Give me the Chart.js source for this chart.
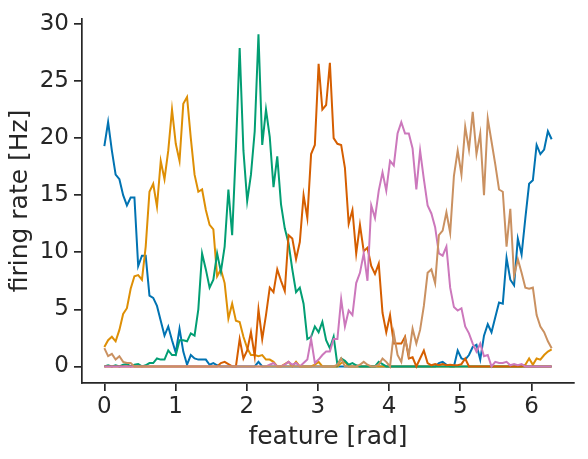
<!DOCTYPE html>
<html>
<head>
<meta charset="utf-8">
<script src="https://cdn.jsdelivr.net/npm/chart.js@4.4.1/dist/chart.umd.min.js"></script>
<style>
  html, body { margin: 0; padding: 0; background: #ffffff; }
</style>
</head>
<body>
<canvas id="tuning" width="588" height="459"></canvas>
<script>
// feature grid: 120 samples over [0, 2pi]
const nSamples = 120;
const features = Array.from({ length: nSamples }, (_, i) => i * 2 * Math.PI / (nSamples - 1));

const xTicks = [0, 1, 2, 3, 4, 5, 6];
const yTicks = [0, 5, 10, 15, 20, 25, 30];

// firing rates [Hz], one row = 10 samples
const rateBlue = [
  19.3, 21.4, 18.9, 16.8, 16.4, 15.0, 14.1, 14.8, 14.8, 8.8,
  9.7, 9.7, 6.2, 6.0, 5.3, 4.0, 2.7, 3.5, 2.3, 1.2,
  3.3, 1.3, 0.15, 1.0, 0.7, 0.6, 0.6, 0.6, 0.15, 0.3,
  0.1, 0, 0, 0, 0, 0, 0, 0, 0, 0,
  0, 0.4, 0, 0, 0, 0, 0, 0, 0, 0,
  0, 0, 0, 0, 0, 0, 0, 0, 0, 0,
  0, 0, 0, 0, 0, 0, 0, 0, 0, 0,
  0, 0, 0, 0, 0, 0, 0, 0, 0, 0,
  0, 0, 0, 0, 0, 0, 0, 0, 0, 0.3,
  0.4, 0.15, 0, 0, 1.4, 0.7, 0.6, 1.0, 1.7, 1.9,
  0.6, 2.7, 3.7, 3.0, 4.3, 5.6, 5.5, 9.5, 7.6, 7.1,
  11.2, 9.8, 13.0, 16.0, 16.3, 19.4, 18.6, 19.0, 20.6, 19.9
];
const rateOrange = [
  1.7, 2.3, 2.6, 2.2, 3.2, 4.6, 5.1, 6.8, 7.9, 8.0,
  7.6, 10.5, 15.3, 16.0, 14.0, 18.0, 16.4, 18.9, 22.5, 19.5,
  18.0, 23.0, 23.6, 20.0, 16.8, 15.3, 15.5, 13.7, 12.4, 12.0,
  7.9, 8.5, 7.3, 4.2, 5.5, 4.0, 3.9, 2.6, 1.6, 1.0,
  1.0, 0.9, 1.0, 0.6, 0.6, 0.4, 0, 0, 0.2, 0.4,
  0, 0.4, 0, 0, 0, 0, 0.15, 0.4, 0, 0,
  0, 0, 0, 0.3, 0.4, 0, 0, 0, 0, 0,
  0, 0, 0, 0, 0, 0, 0, 0, 0, 0,
  0, 0, 0, 0, 0, 0, 0, 0, 0, 0,
  0, 0, 0, 0, 0, 0, 0, 0, 0, 0,
  0, 0, 0, 0, 0, 0, 0, 0, 0, 0,
  0, 0, 0.15, 0.7, 0.15, 0.7, 0.6, 1.0, 1.3, 1.5
];
const rateGreen = [
  0, 0.1, 0, 0.1, 0, 0.15, 0.2, 0, 0.15, 0.2,
  0, 0.1, 0.3, 0.3, 0.7, 0.6, 0.6, 1.4, 1.0, 1.0,
  2.3, 2.3, 2.2, 2.9, 2.7, 5.0, 9.9, 8.5, 6.9, 7.6,
  9.9, 8.3, 10.5, 15.5, 11.5, 19.1, 27.9, 18.9, 14.5, 16.8,
  20.6, 29.1, 19.4, 22.5, 20.1, 15.7, 18.4, 14.2, 12.1, 10.8,
  8.5, 6.5, 6.9, 5.5, 2.4, 2.6, 3.5, 3.0, 3.9, 2.3,
  1.6, 2.6, 0.15, 0.7, 0.5, 0.15, 0.3, 0.1, 0, 0,
  0, 0, 0, 0.4, 0.2, 0, 0, 0, 0, 0,
  0, 0, 0, 0, 0, 0, 0, 0, 0, 0,
  0, 0, 0, 0, 0, 0, 0, 0, 0, 0,
  0, 0, 0, 0, 0, 0, 0, 0, 0, 0,
  0, 0, 0, 0, 0, 0, 0, 0, 0, 0
];
const rateRed = [
  0, 0, 0, 0, 0, 0, 0, 0, 0, 0,
  0, 0, 0, 0, 0, 0, 0, 0, 0, 0,
  0, 0, 0, 0, 0, 0, 0, 0, 0, 0,
  0, 0.3, 0.4, 0.2, 0, 0, 2.4, 0.7, 1.4, 3.0,
  0.9, 5.0, 2.4, 4.5, 6.9, 6.5, 8.5, 7.5, 6.6, 11.5,
  11.2, 9.4, 10.9, 15.0, 13.0, 18.6, 19.4, 26.5, 22.5, 22.9,
  26.6, 20.0, 19.5, 19.4, 17.4, 12.5, 13.7, 9.9, 12.4, 10.1,
  10.4, 8.8, 8.1, 9.0, 4.7, 3.0, 4.5, 2.0, 2.0, 2.0,
  2.6, 0.7, 0.8, 0, 0.7, 1.4, 0.3, 0.1, 0.2, 0.1,
  0.2, 0.1, 0.15, 0.1, 0.1, 0.2, 0.7, 0, 0, 0,
  0, 0, 0, 0, 0, 0, 0, 0, 0, 0,
  0, 0, 0, 0, 0, 0, 0, 0, 0, 0
];
const ratePink = [
  0, 0, 0, 0, 0, 0, 0, 0, 0, 0,
  0, 0, 0, 0, 0, 0, 0, 0, 0, 0,
  0, 0, 0, 0, 0, 0, 0, 0, 0, 0,
  0, 0, 0, 0, 0, 0, 0, 0, 0, 0,
  0, 0, 0, 0, 0.15, 0.3, 0, 0, 0.15, 0.4,
  0.15, 0.3, 0, 0.3, 0.6, 2.4, 0.3, 0.6, 1.0, 1.3,
  1.3, 2.4, 2.4, 5.9, 3.5, 4.9, 4.5, 7.3, 8.2, 9.9,
  7.5, 14.1, 13.0, 15.4, 17.0, 15.4, 18.0, 17.6, 20.4, 21.4,
  20.4, 20.4, 19.1, 15.5, 18.9, 16.4, 14.1, 13.4, 12.2, 9.9,
  9.7, 10.5, 6.9, 5.2, 4.9, 5.1, 3.5, 2.9, 2.0, 1.3,
  2.0, 0.9, 1.0, 0, 0.4, 0.3, 0.3, 0.4, 0.1, 0.2,
  0.1, 0.2, 0, 0, 0, 0, 0, 0, 0, 0
];
const rateTan = [
  1.6, 0.9, 1.1, 0.6, 0.9, 0.4, 0.3, 0.3, 0, 0,
  0, 0, 0, 0, 0, 0, 0, 0, 0, 0,
  0, 0, 0, 0, 0, 0, 0, 0, 0, 0,
  0, 0, 0, 0, 0, 0, 0, 0, 0, 0,
  0, 0, 0, 0, 0, 0, 0, 0, 0, 0,
  0, 0, 0, 0, 0, 0, 0, 0, 0, 0,
  0, 0, 0.15, 0.7, 0, 0, 0, 0, 0.15, 0.4,
  0.15, 0, 0, 0.15, 0.7, 0.4, 0, 2.9, 1.0, 0.4,
  2.4, 1.0, 3.3, 2.0, 3.2, 5.3, 8.2, 8.5, 7.3, 11.5,
  11.9, 13.5, 11.7, 16.7, 18.9, 16.8, 21.0, 19.0, 22.3, 18.6,
  20.4, 15.0, 21.7, 19.7, 17.7, 15.5, 15.3, 10.5, 13.8, 7.9,
  9.4, 8.2, 6.9, 6.8, 6.9, 4.5, 3.5, 3.0, 2.2, 1.6
];

const rates = [rateBlue, rateOrange, rateGreen, rateRed, ratePink, rateTan];
const colors = ['#0173b2', '#de8f05', '#029e73', '#d55e00', '#cc78bc', '#ca9161'];
const ink = '#262626';
const family = '"DejaVu Sans", sans-serif';

const datasets = rates.map((r, k) => ({
  data: r.map((y, i) => ({ x: features[i], y: y })),
  borderColor: colors[k],
  borderWidth: 2,
  pointRadius: 0,
  fill: false,
  tension: 0,
  // later curves on top, like matplotlib
  order: rates.length - k,
}));

const axisGrid = { drawOnChartArea: false, drawTicks: true, tickLength: 8, color: ink, lineWidth: 1.7 };
const axisBorder = { display: true, color: ink, width: 1.7 };

new Chart(document.getElementById('tuning'), {
  type: 'line',
  data: { datasets: datasets },
  options: {
    responsive: false,
    devicePixelRatio: 1,
    animation: false,
    layout: { padding: { top: 14, right: 14, left: 0, bottom: 0 } },
    plugins: { legend: { display: false }, tooltip: { enabled: false } },
    scales: {
      x: {
        type: 'linear',
        min: -0.314,
        max: 6.597,
        afterBuildTicks: s => { s.ticks = xTicks.map(v => ({ value: v })); },
        afterFit: s => { s.height = 76; },
        grid: axisGrid,
        border: axisBorder,
        ticks: { color: ink, font: { family: family, size: 23 }, padding: 2, maxRotation: 0 },
        title: { display: true, text: 'feature [rad]', color: ink, font: { family: family, size: 25 }, padding: { top: 0, bottom: 7 } }
      },
      y: {
        min: -1.45,
        max: 30.45,
        afterBuildTicks: s => { s.ticks = yTicks.map(v => ({ value: v })); },
        afterFit: s => { s.width = 82; },
        grid: axisGrid,
        border: axisBorder,
        ticks: { color: ink, font: { family: family, size: 23 }, padding: 5 },
        title: { display: true, text: 'firing rate [Hz]', color: ink, font: { family: family, size: 25 }, padding: { top: 5, bottom: 0 } }
      }
    }
  }
});
</script>
</body>
</html>
